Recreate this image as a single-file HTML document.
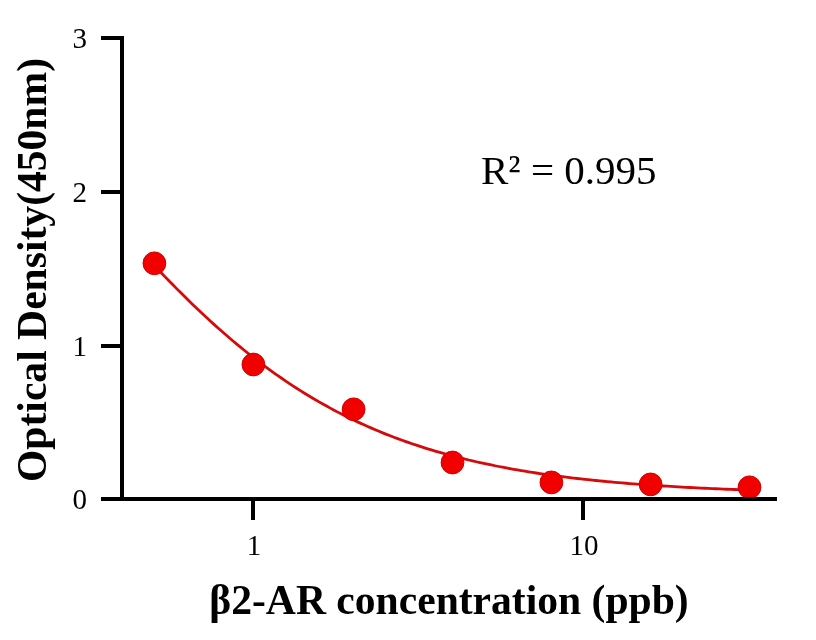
<!DOCTYPE html>
<html><head><meta charset="utf-8"><style>
html,body{margin:0;padding:0;background:#fff;}
body{width:816px;height:640px;overflow:hidden;}
svg{display:block;will-change:transform;}
text{font-family:"Liberation Serif",serif;fill:#000;}
</style></head><body>
<svg width="816" height="640" viewBox="0 0 816 640">
<rect width="816" height="640" fill="#fff"/>
<path d="M154.40,265.62 L158.14,269.57 L161.89,273.50 L165.63,277.39 L169.37,281.24 L173.11,285.07 L176.86,288.86 L180.60,292.61 L184.34,296.32 L188.08,300.00 L191.83,303.64 L195.57,307.24 L199.31,310.80 L203.06,314.32 L206.80,317.80 L210.54,321.24 L214.28,324.64 L218.03,327.99 L221.77,331.30 L225.51,334.57 L229.26,337.80 L233.00,340.98 L236.74,344.11 L240.48,347.20 L244.23,350.25 L247.97,353.25 L251.71,356.21 L255.45,359.12 L259.20,361.99 L262.94,364.82 L266.68,367.59 L270.43,370.33 L274.17,373.02 L277.91,375.66 L281.65,378.26 L285.40,380.82 L289.14,383.33 L292.88,385.80 L296.63,388.22 L300.37,390.60 L304.11,392.94 L307.85,395.24 L311.60,397.49 L315.34,399.70 L319.08,401.88 L322.82,404.00 L326.57,406.09 L330.31,408.14 L334.05,410.15 L337.80,412.12 L341.54,414.05 L345.28,415.94 L349.02,417.79 L352.77,419.61 L356.51,421.38 L360.25,423.12 L363.99,424.83 L367.74,426.50 L371.48,428.13 L375.22,429.73 L378.97,431.30 L382.71,432.83 L386.45,434.33 L390.19,435.80 L393.94,437.23 L397.68,438.64 L401.42,440.01 L405.17,441.35 L408.91,442.66 L412.65,443.95 L416.39,445.20 L420.14,446.43 L423.88,447.62 L427.62,448.79 L431.36,449.94 L435.11,451.06 L438.85,452.15 L442.59,453.21 L446.34,454.26 L450.08,455.27 L453.82,456.27 L457.56,457.24 L461.31,458.18 L465.05,459.11 L468.79,460.01 L472.54,460.89 L476.28,461.75 L480.02,462.59 L483.76,463.41 L487.51,464.21 L491.25,464.99 L494.99,465.75 L498.73,466.50 L502.48,467.22 L506.22,467.93 L509.96,468.62 L513.71,469.29 L517.45,469.95 L521.19,470.59 L524.93,471.21 L528.68,471.82 L532.42,472.42 L536.16,473.00 L539.91,473.56 L543.65,474.11 L547.39,474.65 L551.13,475.17 L554.88,475.68 L558.62,476.18 L562.36,476.67 L566.10,477.14 L569.85,477.60 L573.59,478.05 L577.33,478.49 L581.08,478.91 L584.82,479.33 L588.56,479.73 L592.30,480.13 L596.05,480.51 L599.79,480.89 L603.53,481.25 L607.27,481.61 L611.02,481.96 L614.76,482.30 L618.50,482.63 L622.25,482.95 L625.99,483.26 L629.73,483.56 L633.47,483.86 L637.22,484.15 L640.96,484.43 L644.70,484.71 L648.45,484.97 L652.19,485.23 L655.93,485.49 L659.67,485.74 L663.42,485.98 L667.16,486.21 L670.90,486.44 L674.64,486.66 L678.39,486.88 L682.13,487.09 L685.87,487.29 L689.62,487.49 L693.36,487.69 L697.10,487.88 L700.84,488.06 L704.59,488.24 L708.33,488.42 L712.07,488.59 L715.82,488.76 L719.56,488.92 L723.30,489.08 L727.04,489.23 L730.79,489.38 L734.53,489.52 L738.27,489.67 L742.01,489.80 L745.76,489.94 L749.50,490.07" fill="none" stroke="#d60a0a" stroke-width="2.8" stroke-linejoin="round"/>
<g fill="#f20000" stroke="#d00000" stroke-width="1">
<circle cx="154.4" cy="263.3" r="11.4"/>
<circle cx="253.4" cy="364.5" r="11.4"/>
<circle cx="353.6" cy="409.3" r="11.4"/>
<circle cx="452.5" cy="462.5" r="11.4"/>
<circle cx="551.4" cy="482.4" r="11.4"/>
<circle cx="650.6" cy="484.4" r="11.4"/>
<circle cx="749.5" cy="487.3" r="11.4"/>
</g>
<g fill="#000">
<rect x="120" y="36" width="4" height="465"/>
<rect x="101" y="497" width="676" height="4"/>
<rect x="101" y="36" width="23" height="4"/>
<rect x="101" y="190" width="23" height="4"/>
<rect x="101" y="344" width="23" height="4"/>
<rect x="251" y="497" width="4" height="23"/>
<rect x="581" y="497" width="4" height="23"/>
</g>
<g font-size="29" text-anchor="end">
<text x="87" y="48">3</text>
<text x="87" y="202">2</text>
<text x="87" y="356">1</text>
<text x="87" y="509">0</text>
</g>
<g font-size="29" text-anchor="middle">
<text x="254" y="555">1</text>
<text x="584" y="555">10</text>
</g>
<text x="481" y="183.5" font-size="41">R² = 0.995</text>
<text font-size="41.6" font-weight="bold" text-anchor="middle" transform="translate(45.5,270) rotate(-90)">Optical Density(450nm)</text>
<text x="449" y="614" font-size="41.6" font-weight="bold" text-anchor="middle">β2-AR concentration (ppb)</text>
</svg>
</body></html>
